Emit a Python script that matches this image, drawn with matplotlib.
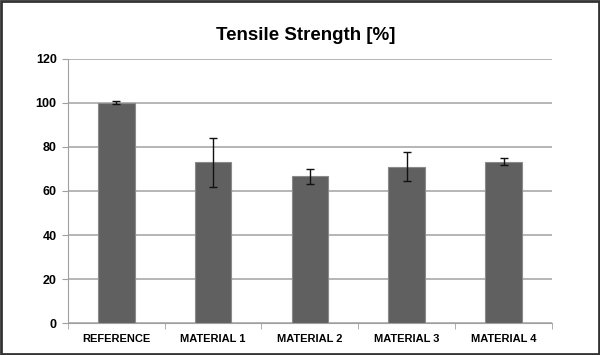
import numpy as np
import matplotlib.pyplot as plt
from matplotlib.patches import Rectangle

plt.rcParams['font.family'] = ['Liberation Sans', 'DejaVu Sans']

categories = ['REFERENCE', 'MATERIAL 1', 'MATERIAL 2', 'MATERIAL 3', 'MATERIAL 4']
values = [100, 73, 66.6, 71.1, 73.3]
errors = [0.7, 11, 3.3, 6.7, 1.5]

fig = plt.figure(figsize=(6, 3.55), dpi=100)
ax = fig.add_axes([0.113, 0.090, 0.807, 0.744])

x = np.arange(len(categories))
ax.bar(x, values, width=0.38, color='#606060', edgecolor='#8a8a8a', linewidth=0.8, zorder=3)
ax.errorbar(x, values, yerr=errors, fmt='none', ecolor='#111111', elinewidth=1,
            capsize=3, capthick=1, zorder=4)

ax.set_xlim(-0.5, len(categories) - 0.5)
ax.set_ylim(0, 120)
ax.set_yticks(np.arange(0, 121, 20))
ax.yaxis.grid(True, color='#b0b0b0', linewidth=1.3, zorder=0)
ax.set_xticks(x)
ax.set_xticklabels(categories, fontsize=8, fontweight='bold')
ax.set_xticks(np.arange(-0.5, len(categories)), minor=True)
ax.tick_params(axis='x', which='major', length=0, pad=8)
ax.tick_params(axis='x', which='minor', length=4, color='#a0a0a0', direction='out')
ax.tick_params(axis='y', length=4, color='#a0a0a0', labelsize=9, pad=4)
for lbl in ax.get_yticklabels():
    lbl.set_fontweight('bold')

for side in ['top', 'right']:
    ax.spines[side].set_visible(False)
ax.spines['left'].set_color('#a0a0a0')
ax.spines['bottom'].set_color('#a0a0a0')

fig.text(0.51, 0.9, 'Tensile Strength [%]', ha='center', va='center',
         fontsize=13.5, fontweight='bold')

fig.patches.append(Rectangle((0.002, 0.003), 0.996, 0.994, transform=fig.transFigure,
                             fill=False, edgecolor='#333333', linewidth=2))

fig.savefig('out.png', dpi=100)
